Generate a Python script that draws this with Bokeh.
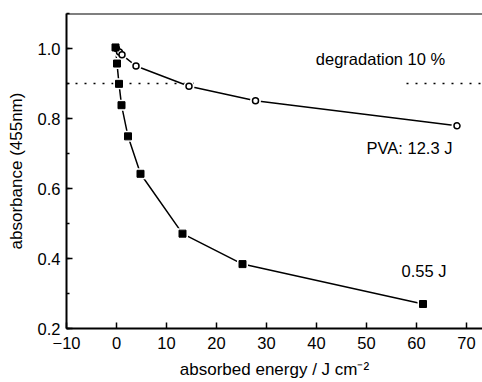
from bokeh.plotting import figure
from bokeh.models import Range1d, SingleIntervalTicker, Label, Span, ColumnDataSource
from bokeh.embed import file_html
from bokeh.resources import INLINE

# closed squares: 0.55 J series
energy_a = [-0.2, 0.1, 0.5, 1.0, 2.3, 4.8, 13.2, 25.2, 61.3]
absorb_a = [1.003, 0.957, 0.899, 0.838, 0.749, 0.642, 0.471, 0.384, 0.270]

# open circles: PVA 12.3 J series
energy_b = [0.0, 0.6, 1.1, 3.9, 14.5, 27.8, 68.1]
absorb_b = [1.000, 0.990, 0.982, 0.950, 0.892, 0.851, 0.779]

threshold = 0.9
dot_x0 = [-10, 58]
dot_x1 = [15.5, 73.2]

x_ticks = [-10, 0, 10, 20, 30, 40, 50, 60, 70]

FONT = "Liberation Sans"
FS = "16.5px"

p = figure(width=482, height=382, output_backend="svg", toolbar_location=None,
           x_range=Range1d(-10, 73.2), y_range=Range1d(0.2, 1.1),
           min_border_left=66, min_border_right=0, min_border_top=13, min_border_bottom=54)
p.outline_line_color = None
p.grid.visible = False
p.background_fill_color = "white"
p.border_fill_color = "white"

# top border
p.add_layout(Span(location=1.1, dimension="width", line_color="black", line_width=2))

# threshold dotted segments
p.segment(x0=dot_x0, y0=[threshold] * 2, x1=dot_x1, y1=[threshold] * 2,
          line_color="black", line_width=1.5, line_dash="2 7")

src_a = ColumnDataSource(dict(x=energy_a, y=absorb_a))
src_b = ColumnDataSource(dict(x=energy_b, y=absorb_b))

p.line("x", "y", source=src_a, line_color="black", line_width=1.5)
p.line("x", "y", source=src_b, line_color="black", line_width=1.5)

# white halos to give gaps around markers
p.scatter("x", "y", source=src_b, marker="circle", size=11, fill_color="white", line_color=None)
p.scatter("x", "y", source=src_a, marker="square", size=11, fill_color="white", line_color=None)
p.scatter("x", "y", source=src_b, marker="circle", size=6, fill_color="white", line_color="black", line_width=1.5)
p.scatter("x", "y", source=src_a, marker="square", size=7, fill_color="black", line_color="black")

for txt, x, y in [("degradation 10 %", 52.8, 0.971), ("PVA: 12.3 J", 58.6, 0.717), ("0.55 J", 61.5, 0.363)]:
    p.add_layout(Label(x=x, y=y, text=txt, text_align="center", text_baseline="middle",
                       text_font=FONT, text_font_size=FS, text_color="black"))

xa = p.xaxis[0]
ya = p.yaxis[0]
xa.ticker = SingleIntervalTicker(interval=10, num_minor_ticks=0)
xa.major_label_overrides = {t: ("\u2212" + str(-t) if t < 0 else str(t)) for t in x_ticks}
ya.ticker = SingleIntervalTicker(interval=0.2, num_minor_ticks=2)
from bokeh.models import PrintfTickFormatter
ya.formatter = PrintfTickFormatter(format="%.1f")

for ax in (xa, ya):
    ax.axis_line_color = "black"
    ax.axis_line_width = 2
    ax.major_tick_line_color = "black"
    ax.major_tick_line_width = 1.5
    ax.major_tick_in = 6
    ax.major_tick_out = 0
    ax.minor_tick_line_color = "black"
    ax.minor_tick_line_width = 1.5
    ax.minor_tick_in = 3
    ax.minor_tick_out = 0
    ax.major_label_text_font = FONT
    ax.major_label_text_font_size = FS
    ax.major_label_text_color = "black"
    ax.axis_label_text_font = FONT
    ax.axis_label_text_font_size = "17px"
    ax.axis_label_text_font_style = "normal"
    ax.axis_label_text_color = "black"

xa.minor_tick_line_color = None
xa.major_label_standoff = 8
ya.major_label_standoff = 6
xa.axis_label = "absorbed energy / J cm\u207b\u00b2"
ya.axis_label = "absorbance (455nm)"
xa.axis_label_standoff = 8
ya.axis_label_standoff = 9

open("out.html", "w").write(file_html(p, INLINE))
